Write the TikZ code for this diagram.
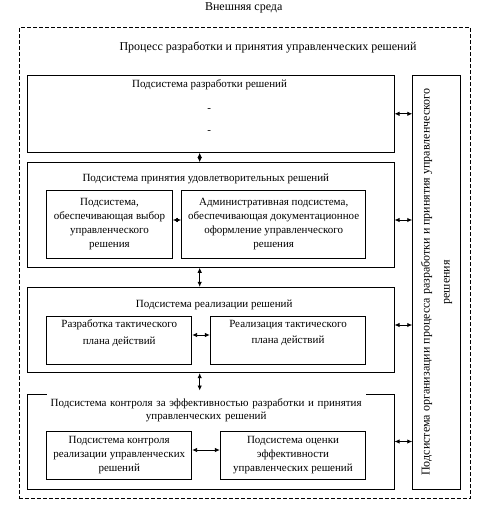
\documentclass[tikz,border=0pt]{standalone}
\usepackage{fontspec}
\setmainfont{Liberation Serif}
\usetikzlibrary{
arrows.meta,
positioning
}

\begin{document}
\begin{tikzpicture}[
x=1pt,
y=-1pt,
box/.style={
rectangle,
draw,
line width=0.9pt,
inner sep=0pt,
align=center,
font=\fontsize{11}{14}\selectfont
},
frame/.style={
rectangle,
draw,
dash pattern=on 4pt off 2pt,
line width=0.9pt
},
title/.style={
align=center,
anchor=base,
font=\fontsize{11}{14}\selectfont
},
arrow/.style={{Latex[length=5pt,width=4.5pt]}-{Latex[length=5pt,width=4.5pt]},line width=0.9pt}
]

\useasboundingbox (0,0) rectangle (480,510);

% outer frame
\node[title, font=\fontsize{12}{14}\selectfont] (env) at (243.7,10.5) {Внешняя среда};
\node[frame, minimum width=451.7pt, minimum height=470.3pt] (proc) at (244.8,262.9) {};
\node[title, font=\fontsize{12}{14}\selectfont] (proctitle) at (268,51) {Процесс разработки и принятия управленческих решений};

% subsystems
\node[box, minimum width=366.7pt, minimum height=77pt] (dev) at (210.7,113.8) {};
\node[box, minimum width=366.7pt, minimum height=104.6pt] (accept) at (210.7,215) {};
\node[box, minimum width=366.7pt, minimum height=85.4pt] (real) at (210.7,330) {};
\node[box, minimum width=366.7pt, minimum height=95pt] (ctrl) at (210.7,441.5) {};
\node[box, minimum width=48pt, minimum height=413.7pt] (org) at (436.7,282.2) {};

\node[title] (devtitle) at (209.5,87.5) {Подсистема разработки решений};
\node[title, anchor=center] (devdash1) at (209.3,110) {-};
\node[title, anchor=center] (devdash2) at (209.3,132) {-};
\node[title] (accepttitle) at (205.8,181.5) {Подсистема принятия удовлетворительных решений};
\node[title] (realtitle) at (214.2,307.5) {Подсистема реализации решений};
\node[title, anchor=north, fill=white, text width=319pt, inner xsep=0pt, inner ysep=8pt, font=\fontsize{11}{13}\selectfont] (ctrltitle) at (206.2,390.5) {Подсистема контроля за эффективностью разработки и принятия\\управленческих решений};
\node[rotate=90, align=center, font=\fontsize{12}{20}\selectfont] (orgtext) at (org.center) {Подсистема организации процесса разработки и принятия управленческого\\решения};

% inner boxes
\node[box, minimum width=125.6pt, minimum height=67.6pt] (choice) at (109.5,224.5) {Подсистема,\\обеспечивающая выбор\\управленческого\\решения};
\node[box, minimum width=184pt, minimum height=67.6pt] (admin) at (273.7,224.5) {Административная подсистема,\\обеспечивающая документационное\\оформление управленческого\\решения};
\node[box, minimum width=145pt, minimum height=48pt, font=\fontsize{11}{16.7}\selectfont, text depth=16pt] (plan) at (119.2,340) {Разработка тактического\\плана действий};
\node[box, minimum width=155.4pt, minimum height=48pt, font=\fontsize{11}{16.7}\selectfont, text depth=16pt] (exec) at (288,340) {Реализация тактического\\плана действий};
\node[box, minimum width=145pt, minimum height=47.6pt] (check) at (119.2,455.5) {Подсистема контроля\\реализации управленческих\\решений};
\node[box, minimum width=145.4pt, minimum height=47.6pt] (assess) at (293,455.5) {Подсистема оценки\\эффективности\\управленческих решений};

% connectors
\draw[arrow] ([xshift=-11pt]dev.south) -- ([xshift=-11pt]accept.north);
\draw[arrow] ([xshift=-11pt]accept.south) -- ([xshift=-11pt]real.north);
\draw[arrow] ([xshift=-11pt]real.south) -- ([xshift=-11pt]real.south |- ctrltitle.north);
\draw[arrow] ([yshift=4.5pt]choice.east) -- ([yshift=4.5pt]admin.west);
\draw[arrow] ([yshift=5pt]plan.east) -- ([yshift=5pt]exec.west);
\draw[arrow] ([yshift=5.5pt]check.east) -- ([yshift=5.5pt]assess.west);
\draw[arrow] (dev.east) -- (dev.east -| org.west);
\draw[arrow] ([yshift=-5pt]accept.east) -- ([yshift=-5pt]accept.east -| org.west);
\draw[arrow] ([yshift=5pt]real.east) -- ([yshift=5pt]real.east -| org.west);
\draw[arrow] (ctrl.east) -- (ctrl.east -| org.west);

\end{tikzpicture}
\end{document}
